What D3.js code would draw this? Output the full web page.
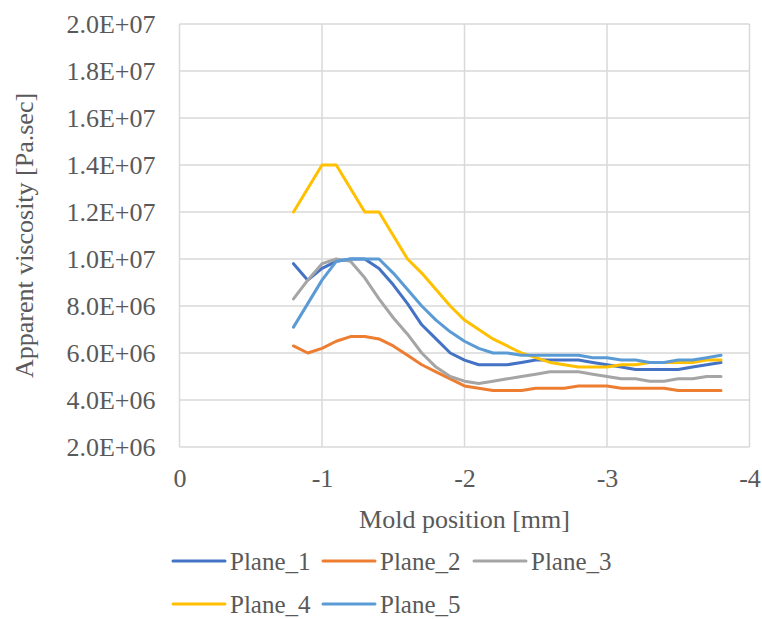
<!DOCTYPE html>
<html>
<head>
<meta charset="utf-8">
<script src="https://cdn.jsdelivr.net/npm/d3@7"></script>
<style>
  html, body { margin: 0; padding: 0; background: #fff; }
  svg { display: block; }
</style>
</head>
<body>
<svg id="chart" width="762" height="619"></svg>
<script>
// Mold positions [mm]
const positions = [-0.8, -0.9, -1.0, -1.1, -1.2, -1.3, -1.4, -1.5, -1.6, -1.7, -1.8,
  -1.9, -2.0, -2.1, -2.2, -2.3, -2.4, -2.5, -2.6, -2.7, -2.8, -2.9, -3.0,
  -3.1, -3.2, -3.3, -3.4, -3.5, -3.6, -3.7, -3.8];

// Apparent viscosity per plane [Pa.sec]
const plane1 = [9.8e6, 9.1e6, 9.6e6, 9.9e6, 1.0e7, 1.0e7, 9.6e6, 8.9e6, 8.1e6, 7.2e6, 6.6e6,
  6.0e6, 5.7e6, 5.5e6, 5.5e6, 5.5e6, 5.6e6, 5.7e6, 5.7e6, 5.7e6, 5.7e6, 5.6e6, 5.5e6,
  5.4e6, 5.3e6, 5.3e6, 5.3e6, 5.3e6, 5.4e6, 5.5e6, 5.6e6];
const plane2 = [6.3e6, 6.0e6, 6.2e6, 6.5e6, 6.7e6, 6.7e6, 6.6e6, 6.3e6, 5.9e6, 5.5e6, 5.2e6,
  4.9e6, 4.6e6, 4.5e6, 4.4e6, 4.4e6, 4.4e6, 4.5e6, 4.5e6, 4.5e6, 4.6e6, 4.6e6, 4.6e6,
  4.5e6, 4.5e6, 4.5e6, 4.5e6, 4.4e6, 4.4e6, 4.4e6, 4.4e6];
const plane3 = [8.3e6, 9.1e6, 9.8e6, 1.0e7, 9.9e6, 9.2e6, 8.3e6, 7.5e6, 6.8e6, 6.0e6, 5.4e6,
  5.0e6, 4.8e6, 4.7e6, 4.8e6, 4.9e6, 5.0e6, 5.1e6, 5.2e6, 5.2e6, 5.2e6, 5.1e6, 5.0e6,
  4.9e6, 4.9e6, 4.8e6, 4.8e6, 4.9e6, 4.9e6, 5.0e6, 5.0e6];
const plane4 = [1.2e7, 1.3e7, 1.4e7, 1.4e7, 1.3e7, 1.2e7, 1.2e7, 1.1e7, 1.0e7, 9.4e6, 8.7e6,
  8.0e6, 7.4e6, 7.0e6, 6.6e6, 6.3e6, 6.0e6, 5.8e6, 5.6e6, 5.5e6, 5.4e6, 5.4e6, 5.4e6,
  5.5e6, 5.5e6, 5.6e6, 5.6e6, 5.6e6, 5.6e6, 5.7e6, 5.7e6];
const plane5 = [7.1e6, 8.1e6, 9.1e6, 9.9e6, 1.0e7, 1.0e7, 1.0e7, 9.4e6, 8.7e6, 8.0e6, 7.4e6,
  6.9e6, 6.5e6, 6.2e6, 6.0e6, 6.0e6, 5.9e6, 5.9e6, 5.9e6, 5.9e6, 5.9e6, 5.8e6, 5.8e6,
  5.7e6, 5.7e6, 5.6e6, 5.6e6, 5.7e6, 5.7e6, 5.8e6, 5.9e6];

const seriesNames = ["Plane_1", "Plane_2", "Plane_3", "Plane_4", "Plane_5"];
const seriesValues = [plane1, plane2, plane3, plane4, plane5];
const seriesColors = ["#4472C4", "#ED7D31", "#A5A5A5", "#FFC000", "#5B9BD5"];

// Axis ticks
const xTicks = [0, -1, -2, -3, -4];
const yTicks = [2e6, 4e6, 6e6, 8e6, 1e7, 1.2e7, 1.4e7, 1.6e7, 1.8e7, 2e7];
const yTickLabels = ["2.0E+06", "4.0E+06", "6.0E+06", "8.0E+06", "1.0E+07",
  "1.2E+07", "1.4E+07", "1.6E+07", "1.8E+07", "2.0E+07"];

const FONT = "'Liberation Serif', 'Times New Roman', Tinos, 'DejaVu Serif', 'Noto Serif', serif";
const TEXT_COLOR = "#595959";

const svg = d3.select("#chart");
const plot = { left: 179.5, right: 749.5, top: 24, bottom: 447 };

const x = d3.scaleLinear().domain([0, -4]).range([plot.left, plot.right]);
const y = d3.scaleLinear().domain([2e6, 2e7]).range([plot.bottom, plot.top]);

// Gridlines
const grid = svg.append("g").attr("stroke", "#d9d9d9").attr("stroke-width", 1.5);
grid.selectAll("line.h").data(yTicks).join("line").attr("class", "h")
  .attr("x1", plot.left).attr("x2", plot.right)
  .attr("y1", d => y(d)).attr("y2", d => y(d));
grid.selectAll("line.v").data(xTicks).join("line").attr("class", "v")
  .attr("x1", d => x(d)).attr("x2", d => x(d))
  .attr("y1", plot.top).attr("y2", plot.bottom);

// Y axis labels
const yAxis = d3.axisLeft(y).tickValues(yTicks)
  .tickFormat((d, i) => yTickLabels[i]).tickSize(0).tickPadding(24);
const gy = svg.append("g").attr("transform", `translate(${plot.left},0)`).call(yAxis)
  .attr("font-family", FONT).attr("font-size", 26);
gy.select(".domain").remove();
gy.selectAll("text").attr("fill", TEXT_COLOR);

// X axis labels
const xAxis = d3.axisBottom(x).tickValues(xTicks)
  .tickFormat(d => d === 0 ? "0" : "-" + Math.abs(d)).tickSize(0).tickPadding(22);
const gx = svg.append("g").attr("transform", `translate(0,${plot.bottom})`).call(xAxis)
  .attr("font-family", FONT).attr("font-size", 26);
gx.select(".domain").remove();
gx.selectAll("text").attr("fill", TEXT_COLOR);

// Axis titles
svg.append("text")
  .attr("x", (plot.left + plot.right) / 2).attr("y", 528)
  .attr("text-anchor", "middle")
  .attr("font-family", FONT).attr("font-size", 26).attr("fill", TEXT_COLOR)
  .text("Mold position [mm]");
svg.append("text")
  .attr("transform", `translate(33,${(plot.top + plot.bottom) / 2}) rotate(-90)`)
  .attr("text-anchor", "middle")
  .attr("font-family", FONT).attr("font-size", 26).attr("fill", TEXT_COLOR)
  .text("Apparent viscosity [Pa.sec]");

// Series lines
const line = d3.line().x((d, i) => x(positions[i])).y(d => y(d));
svg.append("g").selectAll("path").data(seriesValues).join("path")
  .attr("d", d => line(d))
  .attr("fill", "none")
  .attr("stroke", (d, i) => seriesColors[i])
  .attr("stroke-width", 3)
  .attr("stroke-linejoin", "round")
  .attr("stroke-linecap", "round");

// Legend: two rows, text baseline just below each sample line
const legendPos = [
  { lx: 173, ly: 561 }, { lx: 323, ly: 561 }, { lx: 474, ly: 561 },
  { lx: 173, ly: 604 }, { lx: 323, ly: 604 }
];
const legend = svg.append("g").selectAll("g").data(seriesNames).join("g")
  .attr("transform", (d, i) => `translate(${legendPos[i].lx},${legendPos[i].ly})`);
legend.append("line")
  .attr("x1", 0).attr("x2", 52).attr("y1", 0).attr("y2", 0)
  .attr("stroke", (d, i) => seriesColors[i])
  .attr("stroke-width", 3).attr("stroke-linecap", "round");
legend.append("text")
  .attr("x", 57).attr("y", 8.5)
  .attr("font-family", FONT).attr("font-size", 25).attr("fill", TEXT_COLOR)
  .text(d => d);
</script>
</body>
</html>
